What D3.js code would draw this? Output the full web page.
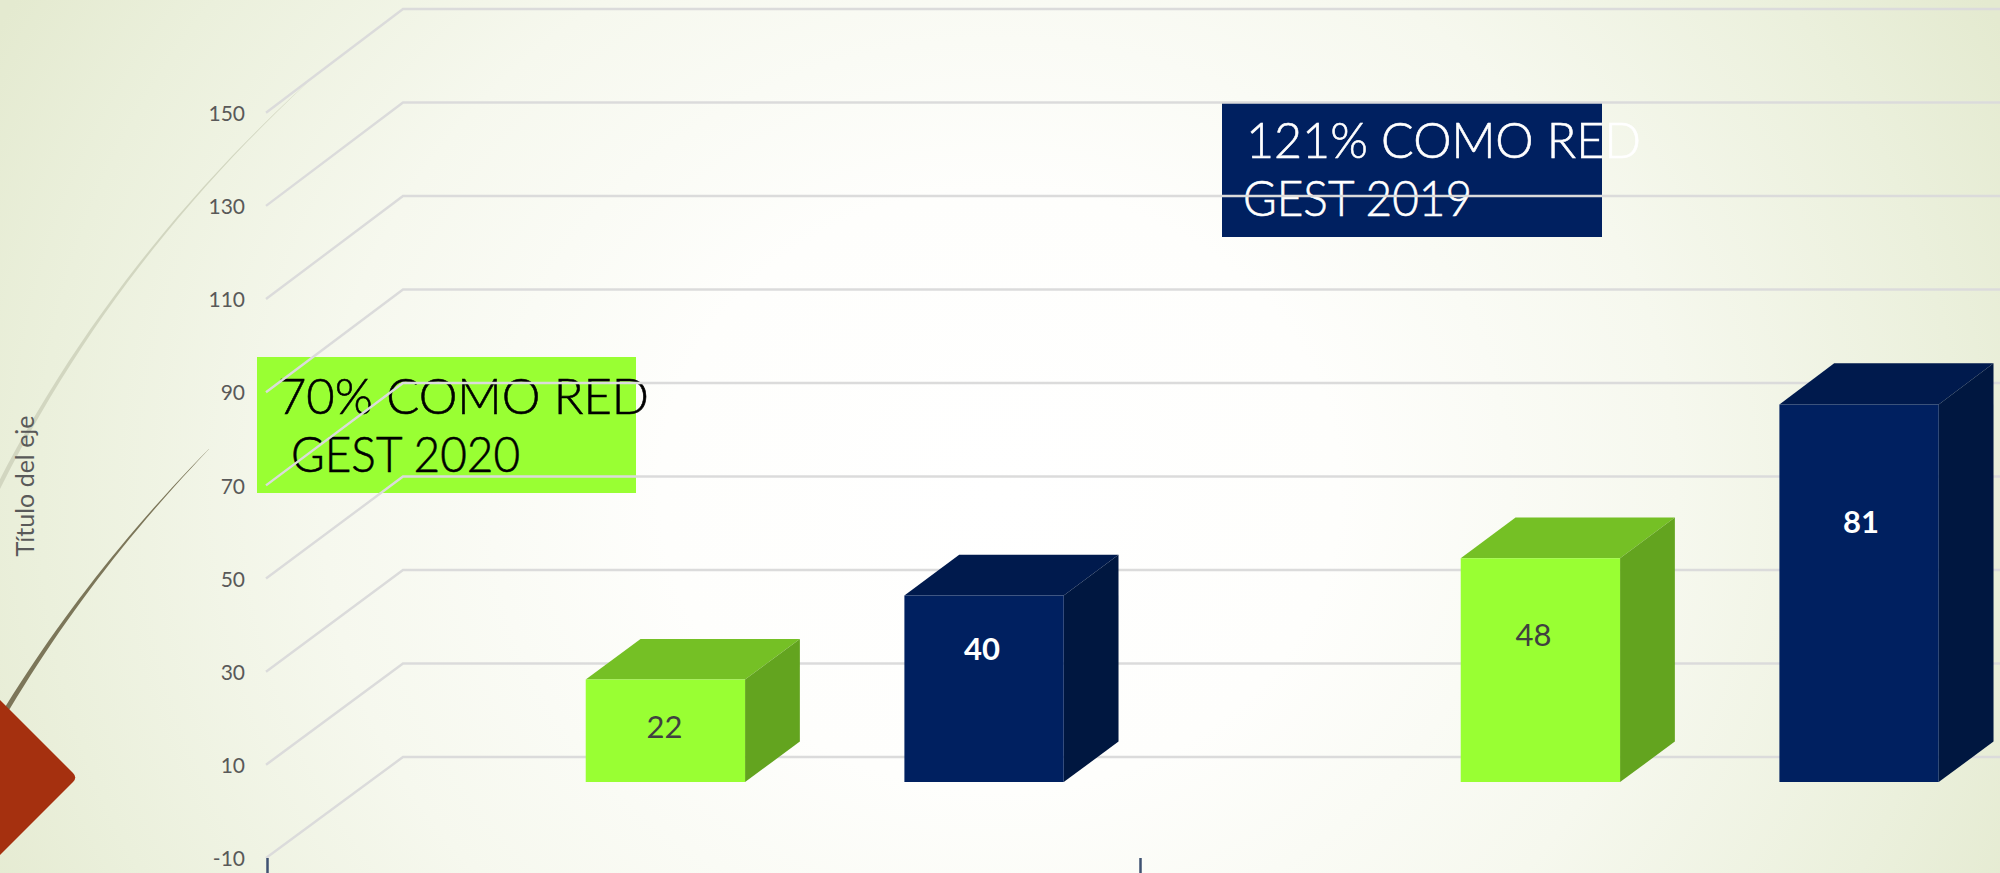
<!DOCTYPE html>
<html lang="es">
<head>
<meta charset="utf-8">
<script src="https://cdn.jsdelivr.net/npm/d3@7"></script>
<style>
html,body{margin:0;padding:0;background:#fff;overflow:hidden}
svg{display:block}
</style>
</head>
<body>
<svg id="c" width="2000" height="873"></svg>
<script>
// ---- data ----
const categories = ["Grupo A", "Grupo B"];
const seriesNames = ["Gest 2020", "Gest 2019"];
const gest2020Values = [22, 48];
const gest2019Values = [40, 81];
const yTickValues = [-10, 10, 30, 50, 70, 90, 110, 130, 150];
const axisTitle = "Título del eje";
const noteGreenLines = ["70% COMO RED", "GEST 2020"];
const noteNavyLines = ["121% COMO RED", "GEST 2019"];

// ---- style ----
const seriesStyle = {
  "Gest 2020": {front:"#99ff33", top:"#75c025", side:"#63a41f", label:"#404040", weight:400},
  "Gest 2019": {front:"#002060", top:"#001a4d", side:"#001740", label:"#ffffff", weight:700}
};
const labelPlacement = { // share of bar height, horizontal nudge
  "Gest 2020": [[0.55,-1],[0.66,-7]],
  "Gest 2019": [[0.72,-2],[0.69,2]]
};

const W = 2000, H = 873;
const svg = d3.select("#c");
const defs = svg.append("defs");

// ---- background ----
const grad = defs.append("radialGradient").attr("id","bg")
  .attr("gradientUnits","userSpaceOnUse")
  .attr("cx",0).attr("cy",0).attr("r",1)
  .attr("gradientTransform","translate(1000,490) scale(1130,1000)");
[[0,"#ffffff"],[0.3,"#feFEfc"],[0.6,"#f6f8ee"],[0.85,"#ebf0dc"],[1,"#e4ead0"]]
  .forEach(([o,c])=>grad.append("stop").attr("offset",o).attr("stop-color",c));
svg.append("rect").attr("width",W).attr("height",H).attr("fill","url(#bg)");

// ---- theme decoration ----
function taperedQuad(p0,c,p2,w0,w1){
  const ts=d3.range(-0.12,1.0001,0.04);
  const at=t=>[(1-t)*(1-t)*p0[0]+2*(1-t)*t*c[0]+t*t*p2[0],(1-t)*(1-t)*p0[1]+2*(1-t)*t*c[1]+t*t*p2[1]];
  const upper=[],lower=[];
  ts.forEach(t=>{
    const a=at(t-0.01),b=at(t+0.01),p=at(t);
    const dx=b[0]-a[0],dy=b[1]-a[1],l=Math.hypot(dx,dy)||1;
    const w=(w0+(w1-w0)*Math.max(0,t))/2;
    upper.push([p[0]-dy/l*w,p[1]+dx/l*w]);
    lower.push([p[0]+dy/l*w,p[1]-dx/l*w]);
  });
  return d3.line()(upper.concat(lower.reverse()))+"Z";
}
svg.append("path").attr("fill","#d2d6c0").attr("d",taperedQuad([0,484],[112.5,262.5],[307,83],4.5,0.3));
svg.append("path").attr("fill","#7c7659").attr("d",taperedQuad([8,707],[91.5,570],[209,449],5,0.3));
svg.append("path").attr("fill","#a5300f")
  .attr("d","M0,700L73,773Q77.5,777.5 73,782L0,855Z");

// ---- annotation boxes (behind the chart) ----
function note(x,y,w,h,fill,color,lines,pos){
  svg.append("rect").attr("x",x).attr("y",y).attr("width",w).attr("height",h).attr("fill",fill);
  lines.forEach((t,i)=>{
    svg.append("text").attr("x",pos[i][0]).attr("y",pos[i][1])
      .attr("textLength",pos[i][2]).attr("lengthAdjust","spacingAndGlyphs")
      .attr("font-family","Lato, sans-serif").attr("font-weight",300).attr("font-size",50)
      .attr("stroke",color).attr("stroke-width",0.6)
      .attr("fill",color).text(t);
  });
}
note(257,357,379,136,"#99ff33","#000000",noteGreenLines,[[278,414,371],[291,472,229]]);
note(1222,102,380,135,"#002060","#ffffff",noteNavyLines,[[1246,158,395],[1243,216,229]]);

// ---- scales ----
const depthX = 137;
const yFront = d3.scaleLinear().domain([-10,150]).range([858,112.7]);
const yBack  = d3.scaleLinear().domain([-10,150]).range([757,9]);
const project = (x,v,d)=>[x+d*depthX, yFront(v)+(yBack(v)-yFront(v))*d];

const x0 = d3.scaleBand().domain(categories).range([266,266+2*875]);
const x1 = d3.scaleBand().domain(seriesNames).range([280,758]).paddingInner(0.5);
const xTicks = d3.scalePoint().domain(categories).range([267,1140]);

// ---- gridlines ----
const grid = svg.append("g").attr("fill","none").attr("stroke","#dbdbdb").attr("stroke-width",2.4);
grid.selectAll("path").data(yTickValues).join("path")
  .attr("d",v=>d3.line()([project(266,v,0),project(266,v,1),[W+5,yBack(v)]]));

// ---- axes ----
const yAxis = svg.append("g").attr("transform","translate(266,1)")
  .call(d3.axisLeft(yFront).tickValues(yTickValues).tickSize(0).tickPadding(21).tickFormat(String));
yAxis.select(".domain").remove();
yAxis.selectAll("text").attr("font-family","Lato, sans-serif").attr("font-size",21).attr("fill","#595959");

const xAxis = svg.append("g").attr("transform","translate(0,858)")
  .call(d3.axisBottom(xTicks).tickSize(16).tickFormat(""));
xAxis.select(".domain").remove();
xAxis.selectAll("line").attr("stroke","#3f5272").attr("stroke-width",2.5);

svg.append("text").attr("transform","translate(34,486) rotate(-90)")
  .attr("text-anchor","middle").attr("font-family","Lato, sans-serif")
  .attr("font-size",25).attr("fill","#595959").text(axisTitle);

// ---- 3D bars ----
const d0 = 0.29, d1 = 0.69;
const valuesBySeries = {"Gest 2020":gest2020Values,"Gest 2019":gest2019Values};
const bars = categories.flatMap((c,ci)=>seriesNames.map(s=>({c,ci,s,v:valuesBySeries[s][ci]})));
const poly = pts=>d3.line()(pts)+"Z";
const gBars = svg.selectAll("g.bar").data(bars).join("g").attr("class","bar");
gBars.each(function(b){
  const g=d3.select(this), st=seriesStyle[b.s];
  const xl=x0(b.c)+x1(b.s), xr=xl+x1.bandwidth();
  const fbl=project(xl,0,d0), fbr=project(xr,0,d0), ftl=project(xl,b.v,d0), ftr=project(xr,b.v,d0);
  const btl=project(xl,b.v,d1), btr=project(xr,b.v,d1), bbr=project(xr,0,d1);
  g.append("path").attr("fill",st.top).attr("d",poly([ftl,ftr,btr,btl]));
  g.append("path").attr("fill",st.side).attr("d",poly([ftr,btr,bbr,fbr]));
  g.append("path").attr("fill",st.front).attr("d",poly([ftl,ftr,fbr,fbl]));
  const [frac,nudge]=labelPlacement[b.s][b.ci];
  g.append("text").attr("x",(xl+xr)/2+(fbl[0]-xl)+nudge)
    .attr("y",fbl[1]+(ftl[1]-fbl[1])*frac)
    .attr("text-anchor","middle").attr("dominant-baseline","central")
    .attr("font-family","Lato, sans-serif").attr("font-size",31)
    .attr("font-weight",st.weight).attr("fill",st.label).text(b.v);
});
</script>
</body>
</html>
